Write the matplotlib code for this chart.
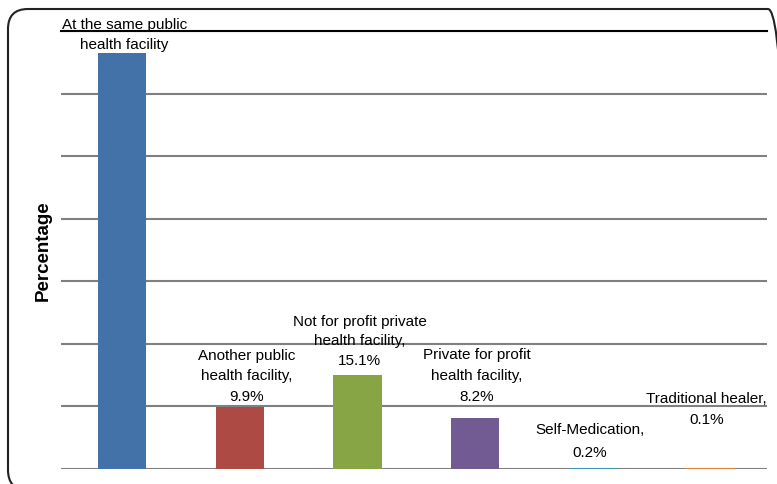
import matplotlib.pyplot as plt
from matplotlib.patches import FancyBboxPatch
from matplotlib.transforms import IdentityTransform

# where patients went for care
categories = ["At the same public\nhealth facility",
              "Another public\nhealth facility,",
              "Not for profit private\nhealth facility,",
              "Private for profit\nhealth facility,",
              "Self-Medication,",
              "Traditional healer,"]
values = [66.5, 9.9, 15.1, 8.2, 0.2, 0.1]
show_pct = [False, True, True, True, True, True]
colors = ["#4272A8", "#AD4A44", "#88A546", "#725A93", "#4198AF", "#DA8137"]

# label offsets from the top of each bar, in pixels
label_dx = [2, 7, 2, 2, -3, -4]
label_dy = [2, 4, 8, 15, 9, 42]
label_ls = [1.5, 1.6, 1.5, 1.6, 1.8, 1.65]

plt.rcParams['font.family'] = ['Liberation Sans', 'DejaVu Sans']

fig = plt.figure(figsize=(7.77, 4.85), dpi=100)
ax = fig.add_axes([61 / 777, 15 / 485, 706 / 777, 438 / 485])

x = range(len(values))
ax.bar(x, values, width=0.41, color=colors, zorder=3)

ax.set_ylim(0, 70)
ax.set_xlim(-0.52, len(values) - 0.52)
ax.set_yticks(range(0, 71, 10))
ax.yaxis.grid(True, color="#808080", linewidth=1.5, zorder=0)
ax.tick_params(left=False, bottom=False, labelleft=False, labelbottom=False)
for side in ["left", "right", "bottom"]:
    ax.spines[side].set_visible(False)
ax.spines["top"].set_linewidth(1.5)
ax.set_ylabel("Percentage", fontsize=13.5, fontweight="bold", labelpad=7)

for i, v in enumerate(values):
    txt = categories[i]
    if show_pct[i]:
        txt += "\n%.1f%%" % v
    ax.annotate(txt, xy=(i, v), xytext=(label_dx[i], label_dy[i]),
                textcoords="offset pixels", ha="center", va="bottom",
                fontsize=11, linespacing=label_ls[i], zorder=4,
                annotation_clip=False)

# rounded frame around the whole chart, running off the right and bottom edges
frame = FancyBboxPatch((8, -6), 780, 481, boxstyle="round,pad=0,rounding_size=20",
                       transform=IdentityTransform(), fill=False,
                       edgecolor="#222222", linewidth=1.5)
fig.patches.append(frame)

fig.savefig("out.png", dpi=100)
